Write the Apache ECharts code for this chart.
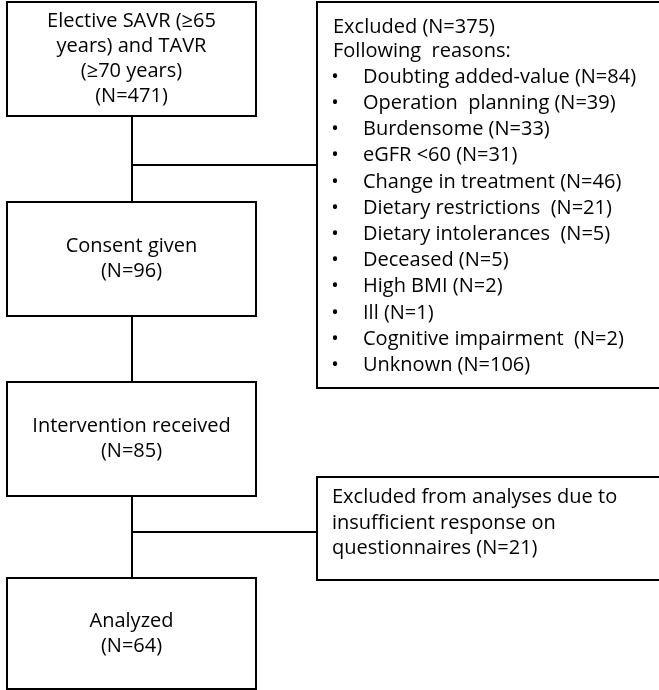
<!DOCTYPE html>
<html>
<head>
<meta charset="utf-8">
<script src="https://cdn.jsdelivr.net/npm/echarts@6/dist/echarts.min.js"></script>
<style>
  html, body { margin: 0; padding: 0; background: #fff; }
  #chart { width: 659px; height: 690px; }
</style>
</head>
<body>
<div id="chart"></div>
<script>
// main flow (left column)
const stageLabels = ['Elective SAVR (≥65\nyears) and TAVR\n(≥70 years)', 'Consent given', 'Intervention received', 'Analyzed']
const stageN = [471, 96, 85, 64]

// exclusions between screening and consent
const excludedN = 375
const reasonLabels = [
  'Doubting added-value', 'Operation  planning', 'Burdensome', 'eGFR <60',
  'Change in treatment', 'Dietary restrictions ', 'Dietary intolerances ', 'Deceased',
  'High BMI', 'Ill', 'Cognitive impairment ', 'Unknown'
]
const reasonN = [84, 39, 33, 31, 46, 21, 5, 5, 2, 1, 2, 106]

// exclusions between intervention and analysis
const analysisExclLabel = 'Excluded from analyses due to\ninsufficient response on\nquestionnaires'
const analysisExclN = 21

// layout in page units (x to the right, y down)
const colX = [7, 256]
const stageRows = [[2, 116], [202, 316], [382, 496], [578, 689]]
const sideX = [317, 672]
const sideRows = [[2, 388], [477, 580]]
const stemX = 132
const branchY = [165, 532]

const FONT = '20px "Open Sans"'
const LINE = { stroke: '#000', lineWidth: 2 }

const chart = echarts.init(document.getElementById('chart'), null, { renderer: 'canvas' })

function boxRect(api, x, row) {
  const p0 = api.coord([x[0], row[0]])
  const p1 = api.coord([x[1], row[1]])
  return { x: p0[0], y: p0[1], width: p1[0] - p0[0], height: p1[1] - p0[1] }
}

function seg(api, a, b) {
  const p0 = api.coord(a)
  const p1 = api.coord(b)
  return { type: 'line', shape: { x1: p0[0], y1: p0[1], x2: p1[0], y2: p1[1] }, style: LINE }
}

chart.setOption({
  animation: false,
  grid: { left: 0, right: 0, top: 0, bottom: 0 },
  xAxis: { type: 'value', min: 0, max: 659, show: false },
  yAxis: { type: 'value', min: 0, max: 690, inverse: true, show: false },
  series: [
    // connectors
    {
      type: 'custom',
      silent: true,
      clip: false,
      data: [[0]],
      renderItem: (params, api) => {
        const children = []
        for (let i = 0; i < stageRows.length - 1; i++) {
          children.push(seg(api, [stemX, stageRows[i][1]], [stemX, stageRows[i + 1][0]]))
        }
        branchY.forEach(y => children.push(seg(api, [stemX, y], [sideX[0], y])))
        return { type: 'group', children }
      }
    },
    // stage boxes
    {
      type: 'custom',
      silent: true,
      data: stageLabels.map((_, i) => [i]),
      renderItem: (params, api) => {
        const i = api.value(0)
        const r = boxRect(api, colX, stageRows[i])
        return {
          type: 'group',
          children: [
            { type: 'rect', shape: r, style: { fill: '#fff', stroke: '#000', lineWidth: 2 } },
            {
              type: 'text',
              style: {
                text: stageLabels[i] + '\n(N=' + stageN[i] + ')',
                x: r.x + r.width / 2,
                y: r.y + r.height / 2,
                align: 'center',
                verticalAlign: 'middle',
                font: FONT,
                lineHeight: 25,
                fill: '#000'
              }
            }
          ]
        }
      }
    },
    // excluded (reasons) box
    {
      type: 'custom',
      silent: true,
      clip: false,
      data: [[0]],
      renderItem: (params, api) => {
        const r = boxRect(api, sideX, sideRows[0])
        const children = [
          { type: 'rect', shape: r, style: { fill: '#fff', stroke: '#000', lineWidth: 2 } },
          { type: 'text', style: { text: 'Excluded (N=' + excludedN + ')', x: r.x + 16, y: r.y + 25, verticalAlign: 'middle', font: FONT, fill: '#000' } },
          { type: 'text', style: { text: 'Following  reasons:', x: r.x + 16, y: r.y + 49, verticalAlign: 'middle', font: FONT, fill: '#000' } }
        ]
        reasonLabels.forEach((lab, k) => {
          const y = r.y + 75 + k * 26.2
          children.push({ type: 'text', style: { text: '•', x: r.x + 18, y, align: 'center', verticalAlign: 'middle', font: FONT, fill: '#000' } })
          children.push({ type: 'text', style: { text: lab + ' (N=' + reasonN[k] + ')', x: r.x + 46, y, verticalAlign: 'middle', font: FONT, fill: '#000' } })
        })
        return { type: 'group', children }
      }
    },
    // excluded from analyses box
    {
      type: 'custom',
      silent: true,
      clip: false,
      data: [[0]],
      renderItem: (params, api) => {
        const r = boxRect(api, sideX, sideRows[1])
        return {
          type: 'group',
          children: [
            { type: 'rect', shape: r, style: { fill: '#fff', stroke: '#000', lineWidth: 2 } },
            {
              type: 'text',
              style: {
                text: analysisExclLabel + ' (N=' + analysisExclN + ')',
                x: r.x + 15,
                y: r.y + 8,
                verticalAlign: 'top',
                font: FONT,
                lineHeight: 25.5,
                fill: '#000'
              }
            }
          ]
        }
      }
    }
  ]
})
</script>
</body>
</html>
